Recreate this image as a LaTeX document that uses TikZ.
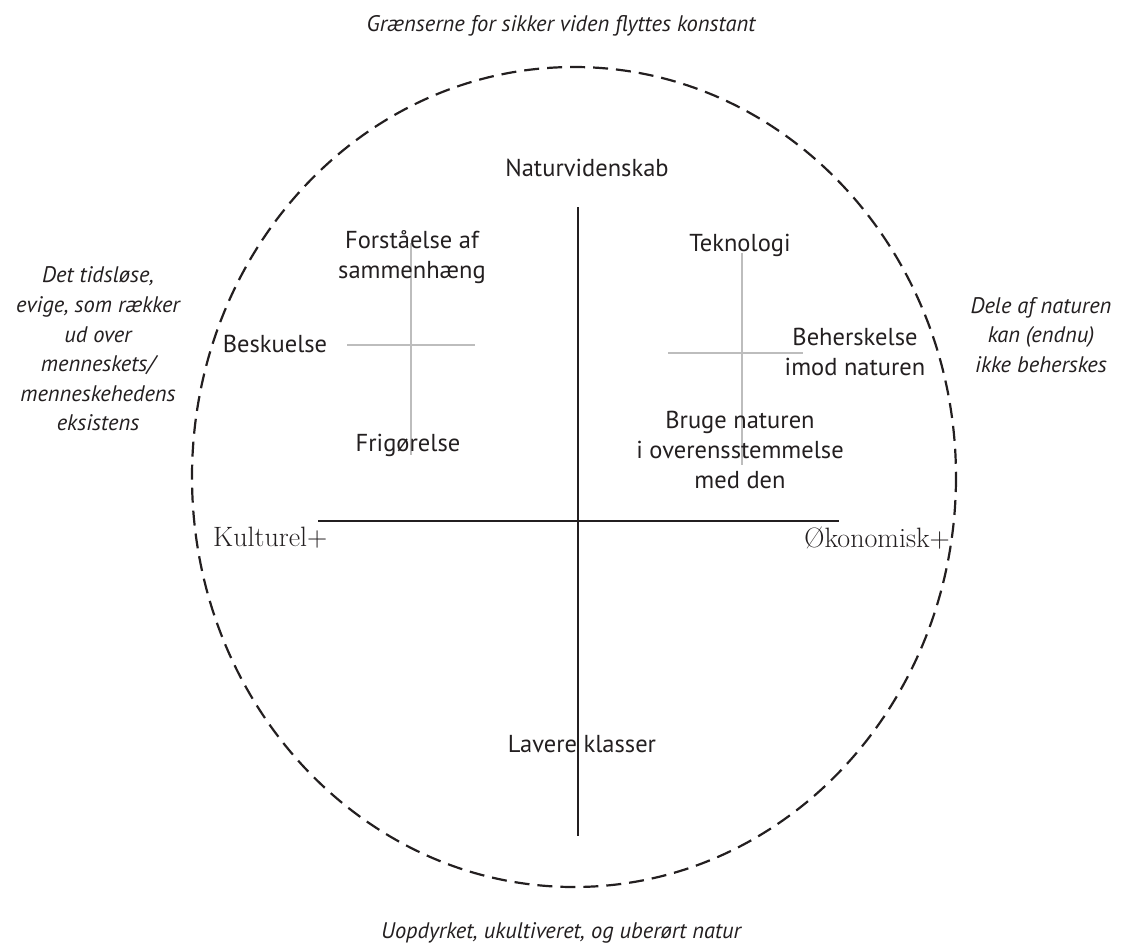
\documentclass[tikz,border=0pt]{standalone}
\usepackage{fontspec}
\setmainfont{Latin Modern Roman}
\newfontfamily\labfont{PT Sans}
\definecolor{ink}{HTML}{231F20}
\definecolor{greyline}{HTML}{BDBDBD}
\begin{document}
\begin{tikzpicture}[x=1pt,y=-1pt,
  lab/.style={font=\labfont\fontsize{24.5}{30}\selectfont, text=ink, align=center, inner sep=0pt},
  itlab/.style={font=\labfont\itshape\fontsize{22.5}{29.6}\selectfont, text=ink, align=center, inner sep=0pt},
  serlab/.style={font=\fontsize{28}{30}\selectfont, text=ink, inner sep=0pt},
  axis/.style={draw=ink, line width=2.2pt},
  cross/.style={draw=greyline, line width=2.2pt},
  boundary/.style={draw=ink, line width=2.2pt, dash pattern=on 15pt off 8pt}]
\useasboundingbox (0,0) rectangle (1121,946);
% boundary ellipse
\draw[boundary] (574,477) ellipse [x radius=382, y radius=410];
% axes
\coordinate (vt) at (578,207);
\coordinate (vb) at (578,836);
\coordinate (hl) at (318,521);
\coordinate (hr) at (839,521);
\draw[axis] (vt) -- (vb);
\draw[axis] (hl) -- (hr);
% grey crosses
\coordinate (lct) at (411,243);
\coordinate (lcb) at (411,455);
\coordinate (lcl) at (347,345);
\coordinate (lcr) at (475,345);
\draw[cross] (lct) -- (lcb);
\draw[cross] (lcl) -- (lcr);
\coordinate (rct) at (742,253);
\coordinate (rcb) at (742,465);
\coordinate (rcl) at (668,353);
\coordinate (rcr) at (803,353);
\draw[cross] (rct) -- (rcb);
\draw[cross] (rcl) -- (rcr);
% labels
\node[itlab] (top) at (561,26) {Grænserne for sikker viden flyttes konstant};
\node[itlab] (bot) at (561,933) {Uopdyrket, ukultiveret, og uberørt natur};
\node[lab] (nat) at (587,168) {Naturvidenskab};
\node[lab] (forst) at (412,257) {Forståelse af\\sammenhæng};
\node[lab] (besk) at (275,344) {Beskuelse};
\node[lab] (frig) at (408,445) {Frigørelse};
\node[lab] (tek) at (740,245) {Teknologi};
\node[lab] (beh) at (855,352) {Beherskelse\\imod naturen};
\node[lab] (brug) at (740,450) {Bruge naturen\\i overensstemmelse\\med den};
\node[lab] (lav) at (582,744) {Lavere klasser};
\node[serlab, anchor=west] (kul) at (213,538) {Kulturel+};
\node[serlab, anchor=east] (oko) at (950,538) {Økonomisk+};
\node[itlab] (left) at (98,349) {Det tidsløse,\\evige, som rækker\\ud over\\menneskets/\\menneskehedens\\eksistens};
\node[itlab] (right) at (1041,335) {Dele af naturen\\kan (endnu)\\ikke beherskes};
\end{tikzpicture}
\end{document}
